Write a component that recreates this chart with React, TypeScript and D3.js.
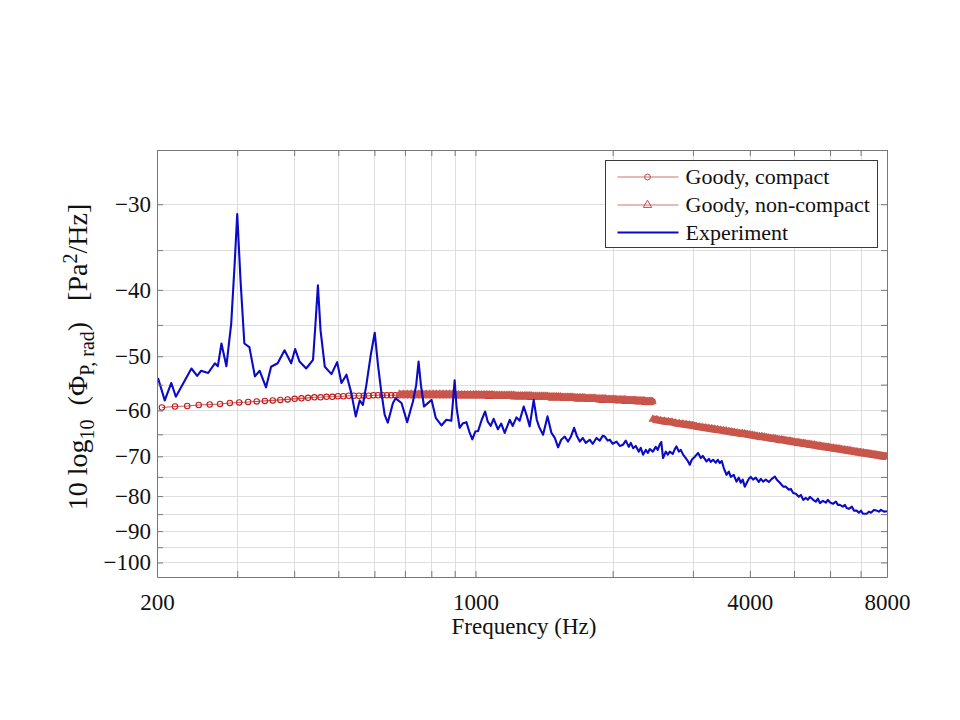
import React, { useEffect, useRef } from 'react';
import * as d3 from 'd3';

// Goody model, compact source: levels on 14 Hz bins from 205 Hz
const compactStartHz = 205;
const compactStepHz = 14;
const compactLevels = [
  -59.4, -59.2, -59.1, -58.9, -58.8, -58.7, -58.5, -58.4, -58.3, -58.2,
  -58.1, -58.0, -57.9, -57.8, -57.7, -57.6, -57.5, -57.4, -57.4, -57.3,
  -57.3, -57.2, -57.2, -57.1, -57.1, -57.1, -57.1, -57.1, -57.0, -57.0,
  -57.0, -57.0, -57.0, -57.0, -57.0,
  -57.0, -57.0, -57.0, -57.0, -57.0, -57.0, -57.0, -57.0, -57.0, -57.0,
  -57.0, -57.0, -57.0, -57.0, -57.0, -57.0, -57.0, -57.0, -57.0, -57.0,
  -57.0, -57.0, -57.0, -57.0, -57.0, -57.0,
  -57.1, -57.1, -57.1, -57.1, -57.1, -57.1, -57.1, -57.1, -57.1, -57.1,
  -57.2, -57.2, -57.2, -57.2, -57.2, -57.2, -57.2, -57.2,
  -57.3, -57.3, -57.3, -57.3, -57.3, -57.3, -57.3, -57.3, -57.3, -57.3,
  -57.4, -57.4, -57.4, -57.4, -57.4, -57.4, -57.4,
  -57.5, -57.5, -57.5, -57.5, -57.5, -57.5, -57.5, -57.5,
  -57.6, -57.6, -57.6, -57.6, -57.6, -57.6, -57.6,
  -57.7, -57.7, -57.7, -57.7, -57.7, -57.7, -57.7, -57.7,
  -57.8, -57.8, -57.8, -57.8, -57.8, -57.8, -57.8, -57.8, -57.8, -57.8,
  -57.9, -57.9, -57.9, -57.9, -57.9, -57.9, -57.9,
  -58.0, -58.0, -58.0, -58.0, -58.0, -58.0, -58.0, -58.0,
  -58.1, -58.1, -58.1, -58.1, -58.1, -58.1, -58.1, -58.1,
  -58.2, -58.2, -58.2, -58.2, -58.2, -58.2, -58.2, -58.2, -58.2,
];

// Goody model, non-compact source: first branch on the same bins from 681 Hz
const nonCompactUpperStartHz = 681;
const nonCompactUpperStepHz = 14;
const nonCompactUpperLevels = [
  -56.8, -56.8, -56.8, -56.8, -56.8, -56.8, -56.8, -56.8, -56.8, -56.8,
  -56.8, -56.8, -56.8, -56.8, -56.8, -56.8,
  -56.9, -56.9, -56.9, -56.9, -56.9, -56.9, -56.9, -56.9, -56.9, -56.9,
  -56.9, -56.9, -56.9, -56.9,
  -57.0, -57.0, -57.0, -57.0, -57.0, -57.0, -57.0, -57.0, -57.0,
  -57.1, -57.1, -57.1, -57.1, -57.1, -57.1, -57.1, -57.1,
  -57.2, -57.2, -57.2, -57.2, -57.2, -57.2, -57.2, -57.2,
  -57.3, -57.3, -57.3, -57.3, -57.3, -57.3, -57.3,
  -57.4, -57.4, -57.4, -57.4, -57.4, -57.4, -57.4,
  -57.5, -57.5, -57.5, -57.5, -57.5, -57.5, -57.5,
  -57.6, -57.6, -57.6, -57.6, -57.6, -57.6, -57.6,
  -57.7, -57.7, -57.7, -57.7, -57.7, -57.7, -57.7,
  -57.8, -57.8, -57.8, -57.8, -57.8, -57.8, -57.8,
  -57.9, -57.9, -57.9, -57.9, -57.9, -57.9, -57.9, -57.9,
  -58.0, -58.0, -58.0, -58.0, -58.0, -58.0, -58.0, -58.0,
  -58.1, -58.1, -58.1, -58.1, -58.1, -58.1, -58.1,
  -58.2, -58.2, -58.2, -58.2, -58.2, -58.2, -58.2,
];

// second branch, 50 Hz bins from 2450 Hz up to 8 kHz
const nonCompactLowerStartHz = 2450;
const nonCompactLowerStepHz = 50;
const nonCompactLowerLevels = [
  -61.8, -61.9, -62.1, -62.2, -62.3, -62.4, -62.6, -62.7, -62.8, -62.9,
  -63.0, -63.1, -63.3, -63.4, -63.5, -63.6, -63.7, -63.8, -63.9, -64.0,
  -64.1, -64.2, -64.3, -64.4, -64.5, -64.6, -64.7, -64.8, -64.8, -64.9,
  -65.0, -65.1, -65.2, -65.3, -65.4, -65.5, -65.5, -65.6, -65.7, -65.8,
  -65.9, -65.9, -66.0, -66.1, -66.2, -66.2, -66.3, -66.4, -66.5, -66.5,
  -66.6, -66.7, -66.8, -66.8, -66.9, -67.0, -67.0, -67.1, -67.2, -67.2,
  -67.3, -67.4, -67.4, -67.5, -67.6, -67.6, -67.7, -67.8, -67.8, -67.9,
  -67.9, -68.0, -68.1, -68.1, -68.2, -68.2, -68.3, -68.3, -68.4, -68.5,
  -68.5, -68.6, -68.6, -68.7, -68.7, -68.8, -68.9, -68.9, -69.0, -69.0,
  -69.1, -69.1, -69.2, -69.2, -69.3, -69.3, -69.4, -69.4, -69.5, -69.5,
  -69.6, -69.6, -69.7, -69.7, -69.8, -69.8, -69.9, -69.9, -70.0, -70.0,
  -70.0, -70.1,
];

// measured spectrum
const expFreq = [
  201, 208, 215, 220, 238, 245, 250, 259, 268, 272,
  277, 284, 291, 296, 300, 305, 311, 319, 328, 336,
  347, 356, 368, 381, 394, 402, 411, 425, 440, 446,
  451, 457, 467, 483, 497, 508, 521, 534, 546, 557,
  566, 576, 589, 601, 611, 621, 632, 642, 659, 668,
  688, 708, 729, 741, 750, 759, 771, 801, 818, 842,
  863, 885, 893, 900, 909, 923, 937, 955, 969, 984,
  999, 1013, 1032, 1050, 1064, 1080, 1096, 1120, 1139, 1159,
  1189, 1207, 1230, 1250, 1276, 1296, 1315, 1342, 1363, 1379,
  1407, 1439, 1468, 1493, 1518, 1542, 1570, 1596, 1618, 1646,
  1668, 1694, 1720, 1746, 1781, 1809, 1843, 1874, 1902, 1922,
  1951, 1971, 2001, 2039, 2073, 2108, 2137, 2170, 2192, 2218,
  2248, 2283, 2305, 2332, 2364, 2389, 2413, 2450, 2487, 2512,
  2537, 2557, 2580, 2616, 2642, 2669, 2710, 2738, 2761, 2794,
  2822, 2855, 2894, 2924, 2953, 2983, 3029, 3080, 3122, 3153,
  3213, 3251, 3284, 3322, 3368, 3402, 3436, 3471, 3507, 3555,
  3597, 3633, 3688, 3739, 3783, 3821, 3859, 3899, 3939, 3979,
  4019, 4066, 4122, 4185, 4228, 4277, 4336, 4403, 4470, 4539,
  4585, 4656, 4734, 4799, 4873, 4922, 4979, 5048, 5125, 5177,
  5238, 5310, 5364, 5418, 5510, 5586, 5643, 5699, 5786, 5875,
  5935, 5995, 6087, 6180, 6243, 6305, 6402, 6467, 6523, 6599,
  6700, 6768, 6862, 6942, 7013, 7084, 7218, 7303, 7376, 7489,
  7592, 7681, 7759, 7878, 8000,
];
const expLevel = [
  -53.8, -58.0, -54.7, -57.3, -52.1, -53.4, -52.5, -52.9, -51.2, -51.7,
  -47.9, -51.7, -44.8, -36.8, -31.0, -38.7, -47.9, -48.5, -53.5, -52.5,
  -55.5, -51.8, -51.2, -49.0, -51.2, -48.8, -50.9, -52.1, -50.6, -44.3,
  -39.4, -45.8, -51.8, -53.1, -51.0, -54.7, -53.2, -56.6, -61.2, -58.0,
  -58.9, -55.1, -49.8, -46.2, -51.5, -56.2, -60.9, -62.5, -58.5, -57.6,
  -58.5, -62.4, -58.2, -55.1, -50.9, -55.1, -59.2, -57.9, -61.5, -63.1,
  -61.9, -62.1, -57.9, -54.2, -59.5, -63.6, -62.7, -62.4, -64.4, -66.1,
  -64.4, -64.3, -61.9, -60.2, -62.3, -63.2, -61.7, -63.9, -62.7, -64.7,
  -61.9, -63.2, -61.4, -62.1, -59.2, -61.1, -63.3, -57.9, -61.9, -63.4,
  -65.1, -61.2, -64.7, -65.8, -67.9, -66.2, -65.5, -66.6, -65.6, -63.6,
  -65.3, -66.6, -65.8, -66.9, -66.2, -67.1, -65.8, -66.4, -65.3, -65.5,
  -66.4, -66.2, -67.1, -66.6, -67.6, -67.3, -66.4, -67.8, -66.9, -68.1,
  -67.6, -68.9, -68.0, -69.6, -68.5, -69.2, -68.3, -68.9, -67.8, -68.5,
  -67.3, -66.7, -70.4, -68.9, -69.6, -68.9, -69.4, -68.3, -67.7, -68.9,
  -68.5, -69.6, -70.4, -71.1, -72.0, -70.8, -70.1, -69.2, -70.4, -69.9,
  -71.2, -70.6, -71.3, -70.8, -71.5, -70.8, -71.6, -71.1, -72.8, -74.5,
  -73.7, -75.0, -74.5, -76.2, -75.2, -76.5, -75.7, -77.5, -76.5, -75.5,
  -75.0, -75.7, -75.2, -76.3, -75.5, -76.2, -75.7, -76.3, -75.5, -74.9,
  -75.7, -76.5, -77.5, -77.5, -78.3, -78.1, -79.2, -79.4, -80.2, -79.7,
  -81.0, -80.5, -81.0, -80.2, -81.0, -81.5, -80.7, -81.9, -81.3, -81.8,
  -81.0, -81.7, -82.1, -81.5, -82.4, -82.4, -82.9, -82.4, -83.3, -83.5,
  -82.9, -84.0, -84.0, -84.6, -84.0, -84.9, -84.9, -84.3, -84.6, -83.8,
  -84.0, -84.3, -83.8, -84.3, -84.2,
];

const xGridValues = [200, 300, 400, 500, 600, 700, 800, 900, 1000, 2000, 3000, 4000, 5000, 6000, 7000, 8000];
const xLabelValues = [200, 1000, 4000, 8000];
const yGridValues = [-30, -35, -40, -45, -50, -55, -60, -65, -70, -75, -80, -85, -90, -95, -100];
const yLabelValues = [-30, -40, -50, -60, -70, -80, -90, -100];
const legendLabels = ['Goody, compact', 'Goody, non-compact', 'Experiment'];

const serif = '"Liberation Serif", "Times New Roman", serif';
const blue = '#0b0bc6';
const salmon = '#c9564b';
const darkRed = '#c01a1a';

type Pt = [number, number];
const binned = (start: number, step: number, levels: number[]): Pt[] =>
  levels.map((v, i) => [start + i * step, v]);

export default function App() {
  const svgRef = useRef<SVGSVGElement>(null);

  useEffect(() => {
    const width = 960;
    const height = 720;
    const margin = { top: 150, right: 73, bottom: 143, left: 157 };
    const plotW = width - margin.left - margin.right;
    const plotH = height - margin.top - margin.bottom;

    const svg = d3.select(svgRef.current).attr('width', width).attr('height', height).html(null);
    svg.append('rect').attr('width', width).attr('height', height).attr('fill', '#fff');

    const x = d3.scaleLog().domain([200, 8000]).range([0, plotW]);
    // level axis is logarithmic in the magnitude of the (negative) dB value
    const yMag = d3.scaleLog().domain([25, 105]).range([0, plotH]);
    const y = (v: number) => yMag(-v);

    const g = svg.append('g').attr('transform', `translate(${margin.left},${margin.top})`);

    g.append('defs').append('clipPath').attr('id', 'plot-clip')
      .append('rect').attr('width', plotW).attr('height', plotH);

    // grid
    const grid = g.append('g').attr('stroke', '#dedede').attr('stroke-width', 1);
    grid.selectAll('.vx').data(xGridValues).join('line')
      .attr('x1', (d) => Math.round(x(d)) + 0.5).attr('x2', (d) => Math.round(x(d)) + 0.5)
      .attr('y1', 0).attr('y2', plotH);
    grid.selectAll('.hy').data(yGridValues).join('line')
      .attr('x1', 0).attr('x2', plotW)
      .attr('y1', (d) => Math.round(y(d)) + 0.5).attr('y2', (d) => Math.round(y(d)) + 0.5);

    const line = d3.line<Pt>().x((d) => x(d[0])).y((d) => y(d[1]));
    const data = g.append('g').attr('clip-path', 'url(#plot-clip)');

    // compact model: thin line with open circles
    const compact = binned(compactStartHz, compactStepHz, compactLevels);
    data.append('path').datum(compact).attr('d', line)
      .attr('fill', 'none').attr('stroke', salmon).attr('stroke-width', 1.1);
    data.append('g').selectAll('circle').data(compact).join('circle')
      .attr('cx', (d) => x(d[0])).attr('cy', (d) => y(d[1])).attr('r', 2.7)
      .attr('fill', 'none').attr('stroke', darkRed).attr('stroke-width', 1.1);

    // non-compact model: two branches, markers packed so tightly they merge into a band
    const tri = d3.symbol(d3.symbolTriangle, 26)() as string;
    [
      binned(nonCompactUpperStartHz, nonCompactUpperStepHz, nonCompactUpperLevels),
      binned(nonCompactLowerStartHz, nonCompactLowerStepHz, nonCompactLowerLevels),
    ].forEach((branch) => {
      data.append('path').datum(branch).attr('d', line)
        .attr('fill', 'none').attr('stroke', salmon).attr('stroke-width', 7.4)
        .attr('stroke-linecap', 'butt');
      data.append('g').selectAll('path').data(branch).join('path')
        .attr('transform', (d) => `translate(${x(d[0])},${y(d[1])})`)
        .attr('d', tri)
        .attr('fill', salmon).attr('stroke', salmon).attr('stroke-width', 0.6);
    });

    // experiment
    const exp: Pt[] = expFreq.map((f, i) => [f, expLevel[i]]);
    data.append('path').datum(exp).attr('d', line)
      .attr('fill', 'none').attr('stroke', blue).attr('stroke-width', 2.1)
      .attr('stroke-linejoin', 'round');

    // axes with inward ticks on all four sides
    const axisColor = '#777';
    const styleAxis = (sel: d3.Selection<SVGGElement, unknown, null, undefined>) => {
      sel.attr('font-family', serif).attr('font-size', 23);
      sel.select('.domain').attr('stroke', axisColor);
      sel.selectAll('.tick line').attr('stroke', axisColor);
      sel.selectAll('.tick text').attr('fill', '#111');
    };
    const yMagGrid = yGridValues.map((v) => -v);

    g.append('g').attr('transform', `translate(0,${plotH})`)
      .call(d3.axisBottom(x).tickValues(xGridValues).tickSize(-6).tickSizeOuter(0).tickPadding(17)
        .tickFormat((d) => (xLabelValues.includes(+d) ? String(d) : '')))
      .call(styleAxis);
    g.append('g')
      .call(d3.axisTop(x).tickValues(xGridValues).tickSize(-6).tickSizeOuter(0).tickFormat(() => ''))
      .call(styleAxis);
    g.append('g')
      .call(d3.axisLeft(yMag).tickValues(yMagGrid).tickSize(-6).tickSizeOuter(0).tickPadding(6)
        .tickFormat((d) => (yLabelValues.includes(-d) ? `\u2212${d}` : '')))
      .call(styleAxis);
    g.append('g').attr('transform', `translate(${plotW},0)`)
      .call(d3.axisRight(yMag).tickValues(yMagGrid).tickSize(-6).tickSizeOuter(0).tickFormat(() => ''))
      .call(styleAxis);

    // axis titles
    svg.append('text')
      .attr('x', margin.left + plotW / 2 + 2).attr('y', 634)
      .attr('text-anchor', 'middle').attr('font-family', serif).attr('font-size', 23).attr('fill', '#111')
      .text('Frequency (Hz)');

    const yTitle = svg.append('text')
      .attr('transform', 'translate(87,357) rotate(-90)')
      .attr('text-anchor', 'middle').attr('font-family', serif).attr('font-size', 28).attr('fill', '#111')
      .style('white-space', 'pre');
    yTitle.append('tspan').text('10 log');
    yTitle.append('tspan').attr('font-size', 20).attr('dy', 7).text('10');
    yTitle.append('tspan').attr('dy', -7).text('  (\u03A6');
    yTitle.append('tspan').attr('font-size', 20).attr('dy', 7).text('P, rad');
    yTitle.append('tspan').attr('dy', -7).text(')   [Pa');
    yTitle.append('tspan').attr('font-size', 20).attr('dy', -10).text('2');
    yTitle.append('tspan').attr('dy', 10).text('/Hz]');

    // legend
    const lg = svg.append('g').attr('transform', 'translate(605.5,160.5)');
    lg.append('rect').attr('width', 272).attr('height', 87)
      .attr('fill', '#fff').attr('stroke', '#3a3a3a').attr('stroke-width', 1);
    const rowY = [16.5, 44.5, 72];
    legendLabels.forEach((label, i) => {
      const row = lg.append('g').attr('transform', `translate(0,${rowY[i]})`);
      row.append('line').attr('x1', 12).attr('x2', 73)
        .attr('stroke', i === 2 ? blue : '#c97472').attr('stroke-width', i === 2 ? 2 : 1.1);
      if (i === 0) {
        row.append('circle').attr('cx', 42).attr('r', 2.9)
          .attr('fill', 'none').attr('stroke', '#c44848').attr('stroke-width', 1);
      } else if (i === 1) {
        row.append('path').attr('transform', 'translate(42,0)')
          .attr('d', d3.symbol(d3.symbolTriangle, 30)() as string)
          .attr('fill', 'none').attr('stroke', '#c44848').attr('stroke-width', 1);
      }
      row.append('text').attr('x', 80).attr('dy', '0.34em')
        .attr('font-family', serif).attr('font-size', 22).attr('fill', '#111')
        .text(label);
    });
  }, []);

  return <svg ref={svgRef} style={{ position: 'absolute', left: 0, top: 0, display: 'block' }} />;
}
